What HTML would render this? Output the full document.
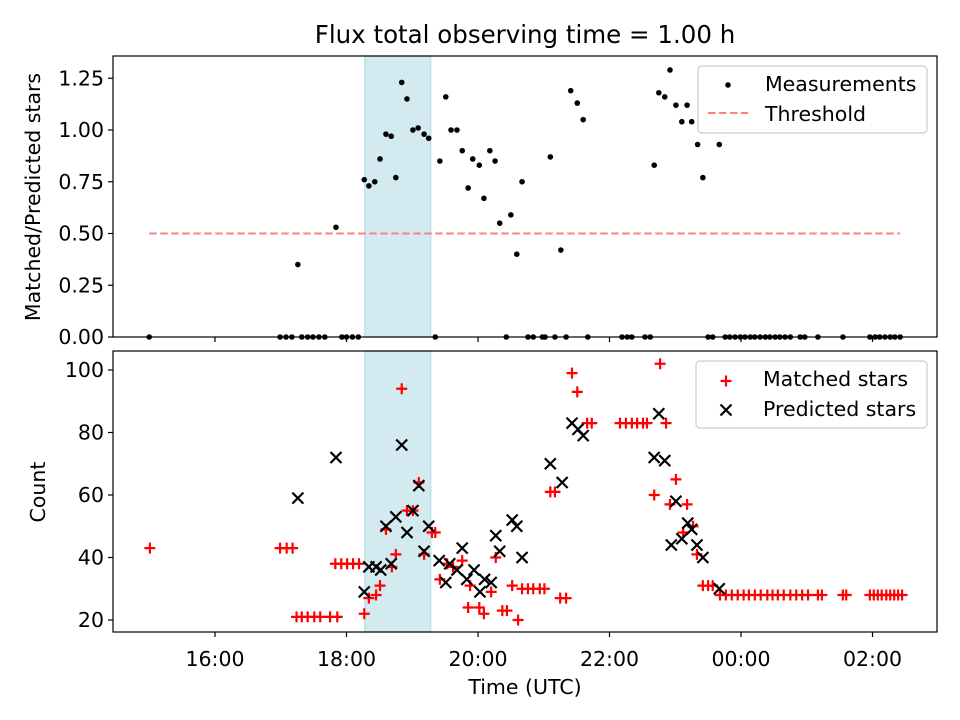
<!DOCTYPE html>
<html><head><meta charset="utf-8"><style>
html,body{margin:0;padding:0;background:#fff}
svg{display:block;font-family:"DejaVu Sans","Liberation Sans",sans-serif}
</style></head><body>
<svg id="chart" width="960" height="720" viewBox="0 0 960 720">
<rect width="960" height="720" fill="#fff"/>
<g id="g"></g>
</svg>
<script>
// Top panel data (time in hours since 00:00 of first day, >24 = next day)
const measTimes=[17.26,17.84,18.27,18.34,18.43,18.51,18.60,18.68,18.75,18.84,18.92,19.01,19.09,19.18,19.25,19.42,19.51,19.59,19.68,19.76,19.85,19.92,20.02,20.09,20.18,20.26,20.33,20.50,20.59,20.67,21.10,21.26,21.41,21.51,21.60,22.68,22.75,22.84,22.92,23.01,23.10,23.18,23.25,23.34,23.42,23.67];
const measValues=[0.35,0.53,0.76,0.73,0.75,0.86,0.98,0.97,0.77,1.23,1.15,1.00,1.01,0.98,0.96,0.85,1.16,1.00,1.00,0.90,0.72,0.86,0.83,0.67,0.90,0.85,0.55,0.59,0.40,0.75,0.87,0.42,1.19,1.13,1.05,0.83,1.18,1.16,1.29,1.12,1.04,1.12,1.04,0.93,0.77,0.93];
const zeroTimes=[15.00,16.99,17.08,17.17,17.32,17.41,17.49,17.58,17.67,17.93,18.00,18.09,18.18,19.35,20.43,20.76,20.84,20.98,21.02,21.17,21.34,21.67,22.19,22.27,22.34,22.54,22.62,23.50,23.57,23.76,23.83,23.91,23.99,24.06,24.14,24.21,24.29,24.37,24.44,24.52,24.59,24.67,24.75,24.90,24.97,25.17,25.55,25.96,26.04,26.11,26.19,26.27,26.34,26.42];
const threshold=0.5, thrStart=15.0, thrEnd=26.42;
const shadeStart=18.28, shadeEnd=19.28;
// Bottom panel data
const matchedTimes=[15.01,16.99,17.09,17.18,17.24,17.32,17.41,17.51,17.60,17.75,17.86,17.83,17.92,18.01,18.10,18.19,18.27,18.34,18.45,18.51,18.60,18.69,18.75,18.84,18.92,19.01,19.10,19.18,19.30,19.35,19.42,19.53,19.62,19.76,19.85,19.88,20.02,20.09,20.20,20.27,20.37,20.44,20.52,20.61,20.67,20.76,20.84,20.94,21.01,21.10,21.17,21.25,21.34,21.43,21.51,21.66,21.73,22.16,22.25,22.34,22.42,22.51,22.57,22.68,22.77,22.86,22.92,23.01,23.12,23.18,23.27,23.33,23.42,23.50,23.57,23.68,23.77,23.86,23.95,24.04,24.12,24.21,24.30,24.40,24.48,24.56,24.65,24.75,24.84,24.93,25.02,25.17,25.23,25.55,25.60,25.96,26.02,26.08,26.14,26.21,26.27,26.33,26.39,26.45];
const matchedValues=[43,43,43,43,21,21,21,21,21,21,21,38,38,38,38,38,22,27,28,31,49,37,41,94,55,55,64,41,48,48,33,38,37,39,24,31,24,22,29,40,23,23,31,20,30,30,30,30,30,61,61,27,27,99,93,83,83,83,83,83,83,83,83,60,102,83,57,65,48,57,50,41,31,31,31,28,28,28,28,28,28,28,28,28,28,28,28,28,28,28,28,28,28,28,28,28,28,28,28,28,28,28,28,28];
const predTimes=[17.26,17.84,18.27,18.34,18.45,18.52,18.60,18.68,18.75,18.84,18.92,19.01,19.10,19.18,19.25,19.41,19.51,19.57,19.68,19.76,19.83,19.94,20.03,20.10,20.20,20.27,20.33,20.52,20.59,20.67,21.10,21.28,21.43,21.52,21.60,22.68,22.75,22.84,22.94,23.01,23.10,23.19,23.25,23.33,23.42,23.67];
const predValues=[59,72,29,37,37,36,50,38,53,76,48,55,63,42,50,39,32,38,36,43,33,36,29,33,32,47,42,52,50,40,70,64,83,81,79,72,86,71,44,58,46,51,49,44,40,30];
const xTicks=[16,18,20,22,24,26];
const xTickLabels=["16:00","18:00","20:00","22:00","00:00","02:00"];
const topTicks=[0,0.25,0.5,0.75,1.0,1.25];
const bottomTicks=[20,40,60,80,100];

const L=113,R=937,T1=56,B1=337,T2=351,B2=632;
const FS=20.5;
const xs=h=>215+(h-16)*65.75;
const ys1=v=>337-v*207;
const ys2=v=>620-(v-20)*3.125;
const NS="http://www.w3.org/2000/svg";
const g=document.getElementById('g');
function mk(tag,attrs,parent){const e=document.createElementNS(NS,tag);for(const k in attrs)e.setAttribute(k,attrs[k]);(parent||g).appendChild(e);return e;}

[[T1,B1],[T2,B2]].forEach(([t,b],i)=>{
  const r=mk('rect',{x:xs(shadeStart),y:t,width:xs(shadeEnd)-xs(shadeStart),height:b-t,fill:'#d4eaf1',stroke:'#bfe0ea','stroke-width':1.5});
  
  
});
const th=mk('line',{x1:xs(thrStart),x2:xs(thrEnd),y1:ys1(threshold),y2:ys1(threshold),stroke:'#ff8080','stroke-width':2,'stroke-dasharray':'7.5,3.5'});


measTimes.forEach((t,i)=>{
  const c=mk('circle',{cx:xs(t),cy:ys1(measValues[i]),r:2.8,fill:'#000'});
  
  
});
zeroTimes.forEach(t=>{
  const c=mk('circle',{cx:xs(t),cy:ys1(0),r:2.8,fill:'#000'});
  
  
});
function plus(x,y,parent){return mk('path',{d:`M${x-5.5},${y}H${x+5.5}M${x},${y-5.5}V${y+5.5}`,stroke:'#f00','stroke-width':2.2,fill:'none'},parent);}
function cross(x,y,parent){return mk('path',{d:`M${x-5.5},${y-5.5}L${x+5.5},${y+5.5}M${x-5.5},${y+5.5}L${x+5.5},${y-5.5}`,stroke:'#000','stroke-width':2.2,fill:'none'},parent);}
matchedTimes.forEach((t,i)=>{
  const p=plus(xs(t),ys2(matchedValues[i]));
  
  
});
predTimes.forEach((t,i)=>{
  const p=cross(xs(t),ys2(predValues[i]));
  
  
});
[[T1,B1,'top'],[T2,B2,'bottom']].forEach(([t,b,n])=>{
  const r=mk('rect',{x:L,y:t,width:R-L,height:b-t,fill:'none',stroke:'#000','stroke-width':1.2});
  
  
  xTicks.forEach(h=>{mk('line',{x1:xs(h),x2:xs(h),y1:b,y2:b+5,stroke:'#000','stroke-width':1.2});});
});
function txt(s,x,y,attrs,name){const e=mk('text',Object.assign({x:x,y:y,'font-size':FS,fill:'#000'},attrs||{}));e.textContent=s;return e;}
xTicks.forEach((h,i)=>txt(xTickLabels[i],xs(h),666,{'text-anchor':'middle'},'x-tick-label'));
topTicks.forEach(v=>{mk('line',{x1:L-5,x2:L,y1:ys1(v),y2:ys1(v),stroke:'#000','stroke-width':1.2});txt(v.toFixed(2),L-9,ys1(v)+7,{'text-anchor':'end'},'top-y-tick-label');});
bottomTicks.forEach(v=>{mk('line',{x1:L-5,x2:L,y1:ys2(v),y2:ys2(v),stroke:'#000','stroke-width':1.2});txt(String(v),L-9,ys2(v)+7,{'text-anchor':'end'},'bottom-y-tick-label');});
txt('Flux total observing time = 1.00 h',525,43,{'text-anchor':'middle','font-size':24.5},'chart-title');
txt('Time (UTC)',525,694,{'text-anchor':'middle'},'x-axis-title');
txt('Matched/Predicted stars',40,197,{'text-anchor':'middle',transform:'rotate(-90 40 197)'},'top-y-axis-title');
txt('Count',45,492,{'text-anchor':'middle',transform:'rotate(-90 45 492)'},'bottom-y-axis-title');
const lg1=mk('g',{});


mk('rect',{x:698,y:66,width:229,height:67,rx:4,fill:'#fff','fill-opacity':0.8,stroke:'#ccc','stroke-width':1.2},lg1);
mk('circle',{cx:728,cy:85,r:2.8,fill:'#000'},lg1);
mk('line',{x1:708,x2:748,y1:113,y2:113,stroke:'#ff8080','stroke-width':2,'stroke-dasharray':'7.5,3.5'},lg1);
txt('Measurements',765,91,{},'legend-measurements');
txt('Threshold',765,121,{},'legend-threshold');
const lg2=mk('g',{});


mk('rect',{x:696,y:361,width:231,height:67,rx:4,fill:'#fff','fill-opacity':0.8,stroke:'#ccc','stroke-width':1.2},lg2);
plus(726,381,lg2);
cross(726,410,lg2);
txt('Matched stars',763,386,{},'legend-matched-stars');
txt('Predicted stars',763,416,{},'legend-predicted-stars');
</script>
</body></html>
